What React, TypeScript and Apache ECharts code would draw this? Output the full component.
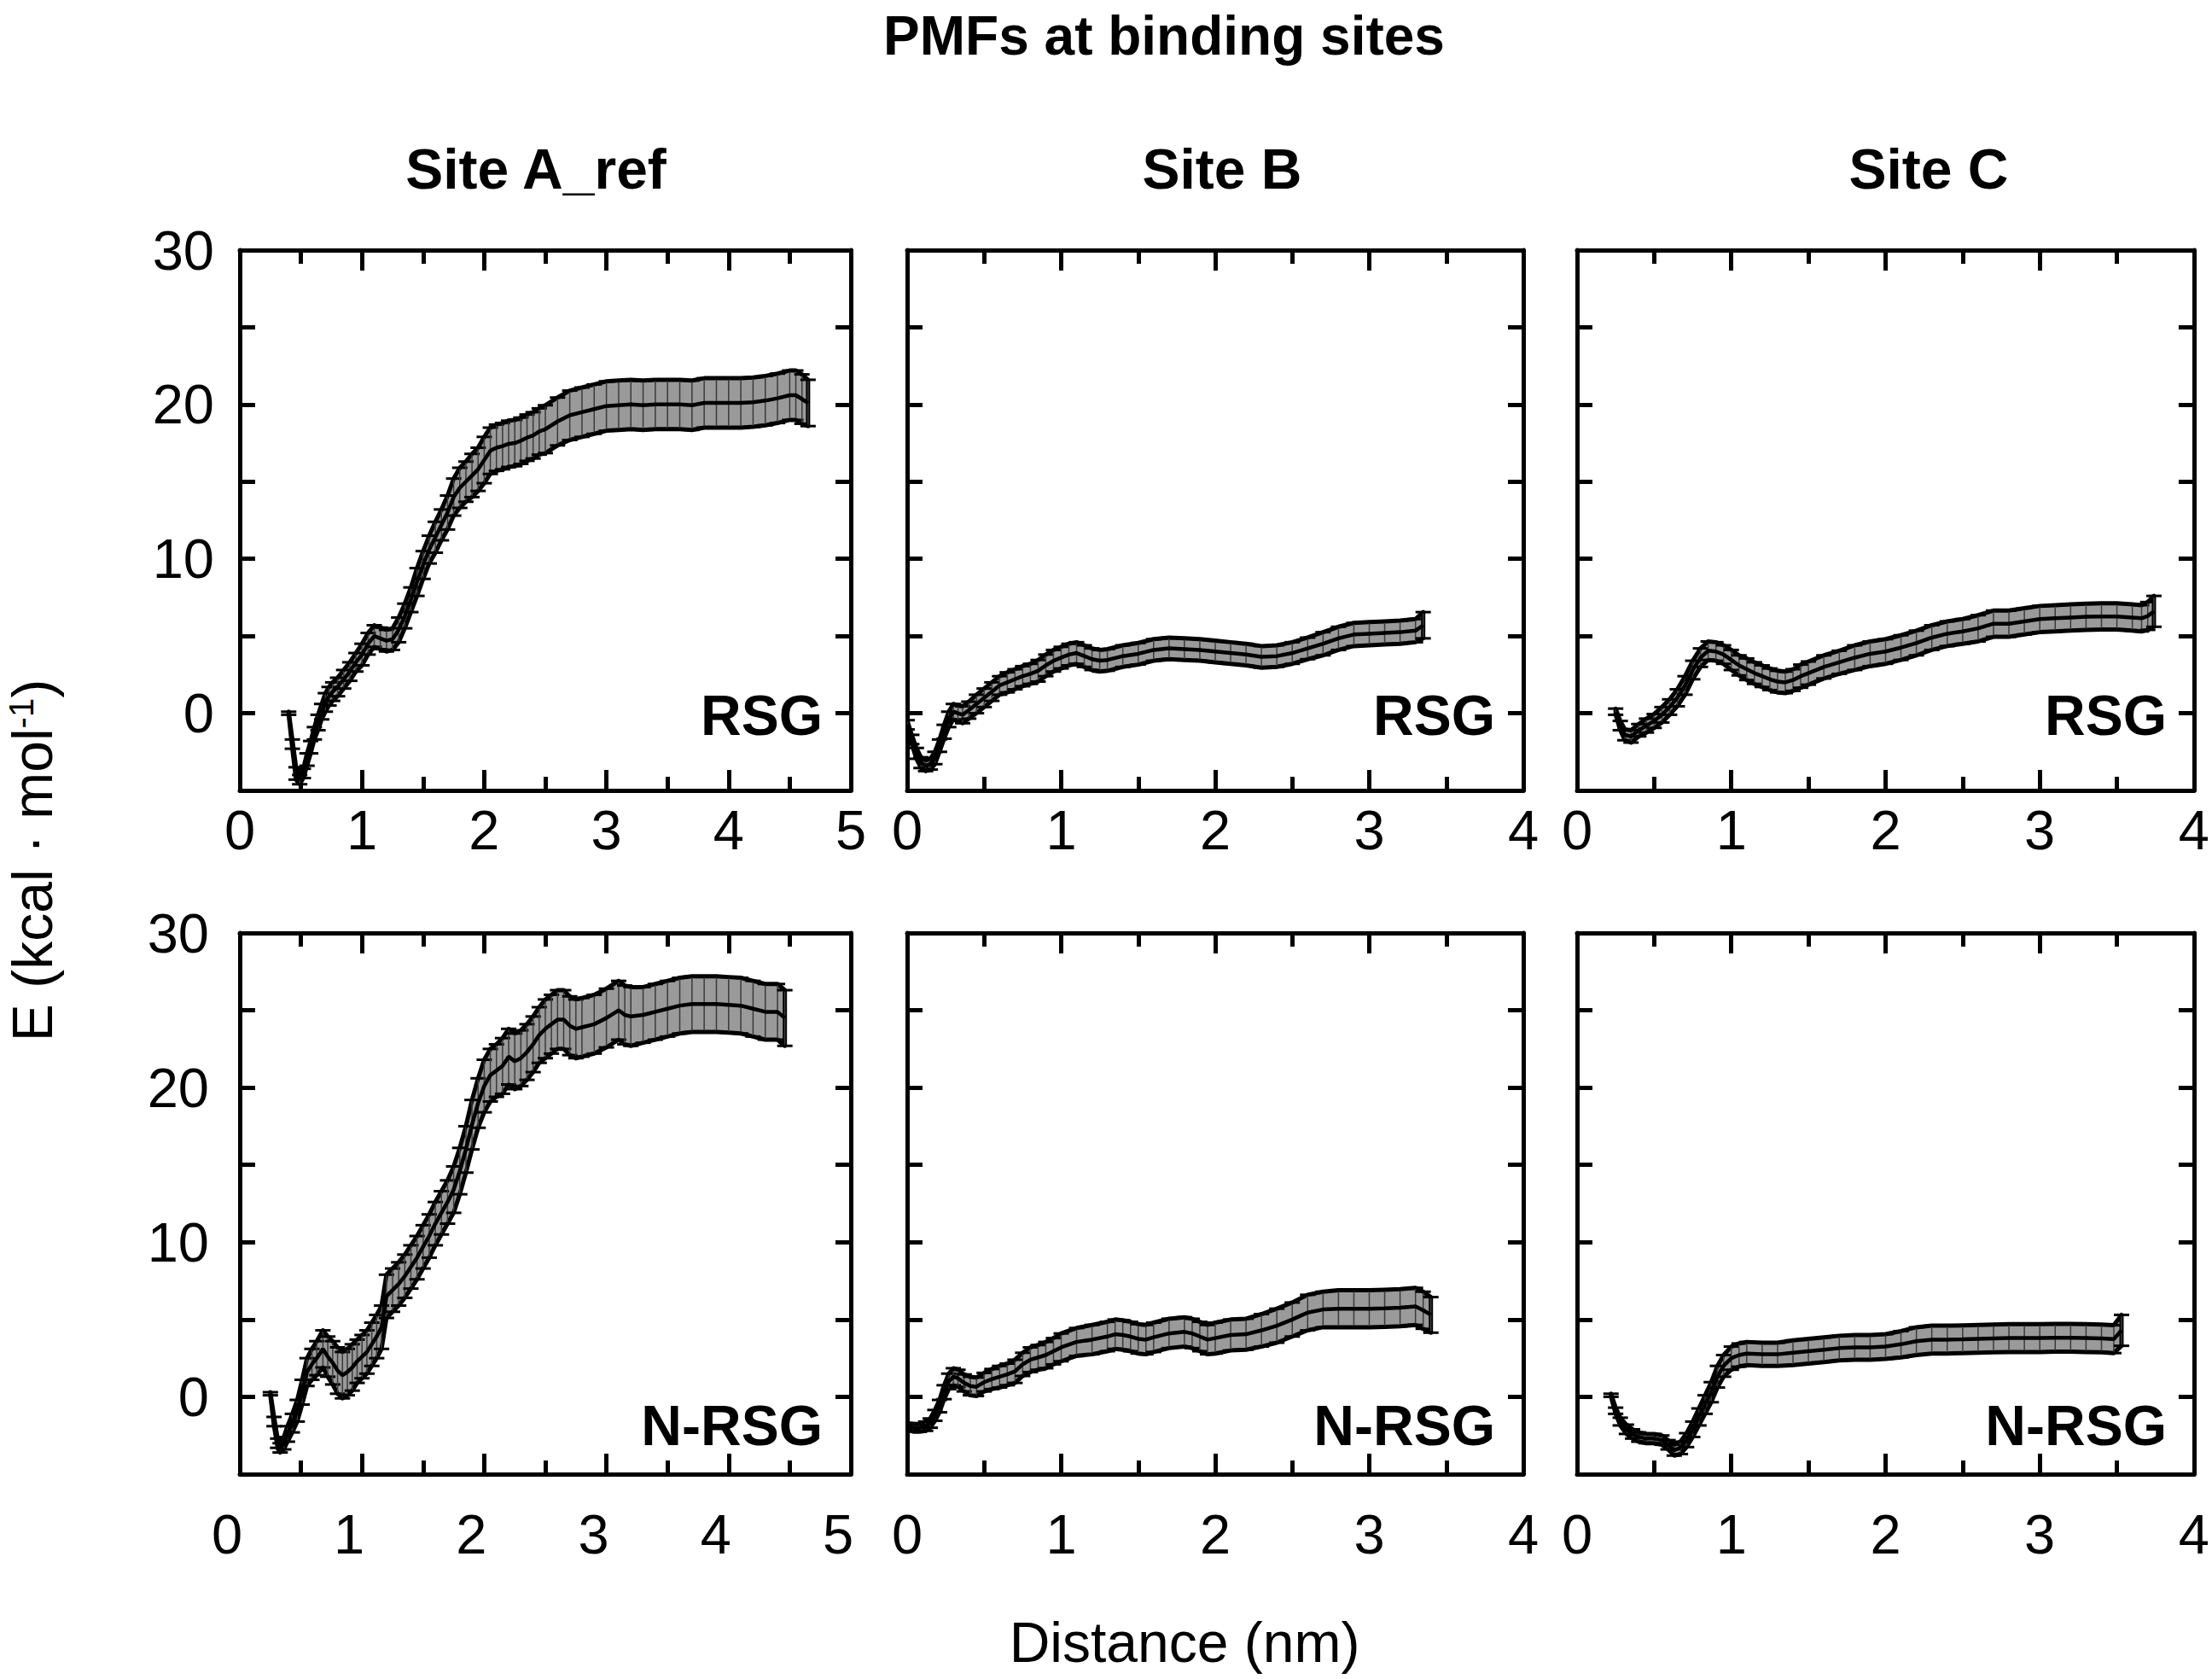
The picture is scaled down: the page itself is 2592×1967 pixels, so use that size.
import React, { useEffect, useRef } from "react";
import * as echarts from "echarts";

// ---------- DATA ----------
// Site A_ref, RSG
const aRsgX = [0.40,0.43,0.46,0.49,0.52,0.55,0.58,0.61,0.64,0.67,0.70,0.73,0.76,0.80,0.85,0.90,0.95,1.00,1.05,1.10,1.15,1.20,1.25,1.30,1.35,1.40,1.45,1.50,1.55,1.60,1.65,1.70,1.75,1.80,1.85,1.90,1.95,2.00,2.05,2.10,2.15,2.20,2.25,2.30,2.35,2.40,2.45,2.50,2.60,2.70,2.80,2.90,3.00,3.10,3.20,3.30,3.40,3.50,3.60,3.70,3.80,3.90,4.00,4.10,4.20,4.30,4.40,4.50,4.55,4.60,4.65];
const aRsgE = [0.0,-2.0,-3.9,-4.3,-3.9,-3.0,-2.2,-1.3,-0.6,0.1,0.7,1.1,1.4,1.7,2.2,2.7,3.3,3.8,4.5,5.0,4.85,4.7,4.8,5.4,6.3,7.35,8.5,9.6,10.6,11.4,12.2,13.0,14.0,14.6,15.0,15.4,15.8,16.4,17.0,17.2,17.3,17.45,17.5,17.65,17.85,18.0,18.25,18.4,18.9,19.3,19.5,19.7,19.9,19.95,20.0,19.95,20.0,20.0,20.0,19.95,20.1,20.1,20.1,20.1,20.15,20.25,20.4,20.6,20.6,20.35,20.1];
const aRsgErr = [0.1,0.3,0.4,0.3,0.3,0.4,0.4,0.4,0.5,0.5,0.6,0.6,0.6,0.6,0.6,0.6,0.6,0.7,0.7,0.7,0.7,0.7,0.7,0.8,0.8,0.8,0.9,0.9,0.9,1.0,1.0,1.1,1.2,1.3,1.3,1.4,1.4,1.5,1.5,1.5,1.5,1.5,1.5,1.5,1.5,1.5,1.5,1.55,1.55,1.6,1.6,1.6,1.6,1.6,1.6,1.6,1.6,1.6,1.6,1.6,1.6,1.6,1.6,1.6,1.6,1.6,1.6,1.6,1.6,1.6,1.5];

// Site B, RSG
const bRsgX = [0.00,0.03,0.06,0.09,0.12,0.15,0.18,0.21,0.24,0.27,0.30,0.33,0.36,0.40,0.45,0.50,0.55,0.60,0.65,0.70,0.75,0.80,0.85,0.90,0.95,1.00,1.05,1.10,1.15,1.20,1.25,1.30,1.40,1.50,1.60,1.70,1.80,1.90,2.00,2.10,2.20,2.30,2.40,2.50,2.60,2.70,2.80,2.90,3.00,3.10,3.20,3.30,3.35];
const bRsgE = [-0.75,-1.7,-2.6,-3.2,-3.4,-3.3,-2.9,-2.1,-1.2,-0.4,0.1,0.0,-0.1,0.2,0.6,1.0,1.4,1.8,2.0,2.2,2.4,2.55,2.75,3.1,3.4,3.6,3.8,3.9,3.7,3.5,3.4,3.45,3.7,3.85,4.1,4.2,4.15,4.1,4.0,3.9,3.8,3.65,3.7,3.9,4.2,4.5,4.85,5.1,5.15,5.2,5.25,5.35,5.7];
const bRsgErr = [0.3,0.3,0.35,0.35,0.35,0.35,0.4,0.4,0.45,0.5,0.5,0.5,0.55,0.55,0.6,0.6,0.6,0.6,0.65,0.65,0.65,0.65,0.7,0.7,0.7,0.7,0.7,0.7,0.7,0.7,0.7,0.7,0.7,0.7,0.7,0.7,0.7,0.7,0.7,0.7,0.7,0.7,0.7,0.7,0.7,0.75,0.75,0.75,0.75,0.75,0.75,0.75,0.85];

// Site C, RSG
const cRsgX = [0.25,0.28,0.31,0.35,0.40,0.45,0.50,0.55,0.60,0.65,0.70,0.75,0.80,0.85,0.90,0.95,1.00,1.05,1.10,1.15,1.20,1.25,1.30,1.35,1.40,1.45,1.50,1.60,1.70,1.80,1.90,2.00,2.10,2.20,2.30,2.40,2.50,2.60,2.70,2.80,2.90,3.00,3.10,3.20,3.30,3.40,3.50,3.60,3.66,3.70,3.74];
const cRsgE = [0.1,-0.8,-1.4,-1.5,-1.1,-0.8,-0.5,-0.1,0.4,1.0,1.8,2.8,3.6,4.05,4.0,3.8,3.45,3.1,2.85,2.6,2.4,2.2,2.05,2.0,2.15,2.4,2.6,3.0,3.3,3.6,3.85,4.0,4.25,4.55,4.9,5.15,5.3,5.5,5.8,5.8,5.95,6.1,6.15,6.2,6.25,6.27,6.27,6.2,6.15,6.3,6.6];
const cRsgErr = [0.2,0.3,0.35,0.4,0.4,0.45,0.45,0.5,0.5,0.55,0.6,0.6,0.6,0.6,0.6,0.6,0.65,0.65,0.7,0.7,0.7,0.7,0.7,0.7,0.7,0.75,0.75,0.75,0.75,0.8,0.8,0.8,0.8,0.8,0.8,0.8,0.8,0.85,0.85,0.85,0.85,0.85,0.85,0.85,0.85,0.85,0.85,0.85,0.85,0.9,1.0];

// Site A_ref, N-RSG
const aNrsgX = [0.25,0.28,0.31,0.33,0.36,0.39,0.43,0.47,0.51,0.55,0.59,0.63,0.68,0.72,0.76,0.80,0.84,0.88,0.92,0.96,1.00,1.04,1.08,1.12,1.16,1.20,1.25,1.30,1.35,1.40,1.45,1.50,1.55,1.60,1.65,1.70,1.75,1.80,1.85,1.90,1.95,2.00,2.05,2.10,2.15,2.20,2.25,2.30,2.35,2.40,2.45,2.50,2.55,2.60,2.65,2.70,2.75,2.80,2.90,3.00,3.10,3.15,3.20,3.30,3.40,3.50,3.60,3.70,3.80,3.90,4.00,4.10,4.20,4.30,4.40,4.46];
const aNrsgE = [0.2,-1.6,-3.0,-3.3,-3.0,-2.4,-1.7,-0.9,0.3,1.6,2.1,2.5,3.1,2.6,2.2,1.7,1.4,1.6,1.9,2.3,2.6,2.9,3.4,3.9,4.5,6.5,6.9,7.3,7.8,8.4,9.0,9.7,10.4,11.2,11.9,12.6,13.4,14.6,16.0,17.6,19.0,20.1,20.8,21.1,21.4,22.0,21.7,21.9,22.3,22.8,23.4,23.8,24.1,24.4,24.4,24.0,23.8,23.9,24.1,24.5,25.0,24.7,24.6,24.7,24.9,25.1,25.3,25.4,25.4,25.4,25.35,25.3,25.1,24.9,24.9,24.5];
const aNrsgErr = [0.1,0.3,0.3,0.3,0.4,0.5,0.6,0.7,0.8,0.9,1.0,1.1,1.2,1.3,1.4,1.5,1.5,1.5,1.5,1.4,1.4,1.4,1.4,1.4,1.4,1.4,1.4,1.4,1.4,1.4,1.4,1.4,1.4,1.4,1.4,1.4,1.5,1.5,1.5,1.6,1.6,1.7,1.7,1.7,1.8,1.8,1.8,1.8,1.8,1.8,1.8,1.9,1.9,1.9,1.9,1.9,1.9,1.9,1.9,1.9,1.9,1.9,1.9,1.8,1.8,1.8,1.8,1.8,1.8,1.8,1.8,1.8,1.8,1.8,1.8,1.8];

// Site B, N-RSG
const bNrsgX = [0.00,0.04,0.08,0.12,0.15,0.18,0.21,0.24,0.27,0.30,0.33,0.37,0.41,0.45,0.50,0.55,0.60,0.65,0.70,0.75,0.80,0.85,0.90,0.95,1.00,1.10,1.20,1.30,1.35,1.40,1.45,1.50,1.55,1.60,1.70,1.80,1.85,1.90,1.95,2.00,2.10,2.20,2.30,2.40,2.50,2.60,2.70,2.80,2.90,3.00,3.10,3.20,3.30,3.35,3.40];
const bNrsgE = [-1.9,-2.0,-2.0,-1.9,-1.7,-1.2,-0.6,0.3,1.0,1.3,1.2,0.9,0.7,0.65,0.95,1.15,1.3,1.45,1.65,2.1,2.4,2.55,2.7,2.95,3.2,3.55,3.7,3.9,4.05,4.0,3.9,3.75,3.7,3.85,4.1,4.2,4.1,3.9,3.7,3.8,4.0,4.05,4.3,4.6,5.0,5.45,5.65,5.7,5.7,5.7,5.72,5.76,5.85,5.6,5.3];
const bNrsgErr = [0.2,0.25,0.25,0.3,0.3,0.35,0.4,0.45,0.5,0.55,0.55,0.55,0.6,0.6,0.6,0.65,0.7,0.7,0.75,0.75,0.8,0.8,0.85,0.85,0.9,0.9,0.95,0.95,0.95,0.95,0.95,0.95,0.95,0.95,0.95,0.95,0.95,0.95,0.95,1.0,1.0,1.0,1.05,1.1,1.1,1.15,1.15,1.2,1.2,1.2,1.2,1.2,1.2,1.2,1.15];

// Site C, N-RSG
const cNrsgX = [0.22,0.25,0.28,0.32,0.36,0.40,0.45,0.50,0.55,0.59,0.63,0.67,0.71,0.75,0.79,0.83,0.87,0.91,0.95,1.00,1.05,1.10,1.20,1.30,1.40,1.50,1.60,1.70,1.80,1.90,2.00,2.10,2.20,2.30,2.40,2.50,2.60,2.70,2.80,2.90,3.00,3.10,3.20,3.30,3.40,3.48,3.53];
const cNrsgE = [0.1,-0.9,-1.6,-2.1,-2.4,-2.6,-2.7,-2.7,-2.8,-3.1,-3.45,-3.3,-2.8,-2.1,-1.3,-0.5,0.3,1.3,2.0,2.5,2.7,2.8,2.75,2.75,2.85,2.95,3.05,3.15,3.2,3.2,3.25,3.4,3.6,3.7,3.7,3.72,3.75,3.78,3.8,3.8,3.8,3.82,3.82,3.8,3.78,3.73,4.3];
const cNrsgErr = [0.1,0.2,0.25,0.3,0.3,0.3,0.3,0.3,0.3,0.3,0.35,0.4,0.45,0.5,0.55,0.6,0.65,0.7,0.7,0.75,0.75,0.75,0.75,0.75,0.8,0.8,0.8,0.8,0.8,0.8,0.8,0.85,0.9,0.9,0.9,0.9,0.9,0.9,0.9,0.9,0.9,0.9,0.9,0.9,0.9,0.9,1.0];

const siteTitles = ["Site A_ref", "Site B", "Site C"];
const ligandLabels = ["RSG", "N-RSG"];
const xMaxBySite = [5, 4, 4];
const yMin = -5;
const yMax = 30;
const mainTitle = "PMFs at binding sites";
const xName = "Distance (nm)";

// ---------- LAYOUT ----------
const FONT = "'Liberation Sans', Arial, Helvetica, sans-serif";
const COLS = [
  { left: 281, width: 716, head: 628 },
  { left: 1063, width: 722, head: 1432 },
  { left: 1848, width: 724, head: 2260 },
];
const ROWS = [
  { top: 293, height: 633, labelMargin: 14, labelY: 838 },
  { top: 1093, height: 634, labelMargin: 38, labelY: 1670 },
];

const panels = [
  { row: 0, col: 0, x: aRsgX, e: aRsgE, err: aRsgErr },
  { row: 0, col: 1, x: bRsgX, e: bRsgE, err: bRsgErr },
  { row: 0, col: 2, x: cRsgX, e: cRsgE, err: cRsgErr },
  { row: 1, col: 0, x: aNrsgX, e: aNrsgE, err: aNrsgErr },
  { row: 1, col: 1, x: bNrsgX, e: bNrsgE, err: bNrsgErr },
  { row: 1, col: 2, x: cNrsgX, e: cNrsgE, err: cNrsgErr },
];

function buildOption() {
  const grid: any[] = [];
  const xAxis: any[] = [];
  const yAxis: any[] = [];
  const series: any[] = [];
  const graphic: any[] = [];

  const lineStyle = { color: "#000", width: 5 };
  const tickStyle = { color: "#000", width: 5 };

  panels.forEach((p, i) => {
    const c = COLS[p.col];
    const r = ROWS[p.row];
    grid.push({ left: c.left, top: r.top, width: c.width, height: r.height, containLabel: false });
    const xmax = xMaxBySite[p.col];
    const baseX = {
      type: "value",
      gridIndex: i,
      min: 0,
      max: xmax,
      interval: 1,
      splitLine: { show: false },
      minorSplitLine: { show: false },
      axisLine: { show: true, onZero: false, lineStyle },
      axisTick: { show: true, inside: true, length: 24, lineStyle: tickStyle },
      minorTick: { show: true, splitNumber: 2, length: 16, lineStyle: tickStyle },
    };
    xAxis.push({
      ...baseX,
      position: "bottom",
      axisLabel: {
        show: true,
        fontSize: 65,
        fontFamily: FONT,
        color: "#000",
        margin: r.labelMargin,
        padding: p.row === 1 && p.col === 0 ? [0, 30, 0, 0] : 0,
      },
    });
    xAxis.push({ ...baseX, position: "top", axisLabel: { show: false } });
    const baseY = {
      type: "value",
      gridIndex: i,
      min: yMin,
      max: yMax,
      interval: 5,
      splitLine: { show: false },
      axisLine: { show: true, onZero: false, lineStyle },
      axisTick: { show: true, inside: true, length: 18, lineStyle: tickStyle },
    };
    yAxis.push({
      ...baseY,
      position: "left",
      axisLabel: {
        show: p.col === 0,
        fontSize: 65,
        fontFamily: FONT,
        color: "#000",
        margin: p.row === 1 ? 36 : 30,
        formatter: (v: number) => (v % 10 === 0 ? String(v) : ""),
      },
    });
    yAxis.push({ ...baseY, position: "right", axisLabel: { show: false } });

    const xs = p.x;
    const es = p.e;
    const errs = p.err;

    // shaded band between mean - err and mean + err
    series.push({
      type: "custom",
      xAxisIndex: 2 * i,
      yAxisIndex: 2 * i,
      clip: true,
      z: 1,
      silent: true,
      data: [[xs[0], es[0]]],
      renderItem: (_params: any, api: any) => {
        const pts: number[][] = [];
        for (let k = 0; k < xs.length; k++) pts.push(api.coord([xs[k], es[k] + errs[k]]));
        for (let k = xs.length - 1; k >= 0; k--) pts.push(api.coord([xs[k], es[k] - errs[k]]));
        return {
          type: "polygon",
          shape: { points: pts },
          style: { fill: "#9a9a9a", stroke: "#000", lineWidth: 5, lineJoin: "round" },
        };
      },
    });

    // error bars
    series.push({
      type: "custom",
      xAxisIndex: 2 * i,
      yAxisIndex: 2 * i,
      clip: true,
      z: 2,
      silent: true,
      encode: { x: 0, y: [1, 2] },
      data: xs.map((x, k) => [x, es[k] - errs[k], es[k] + errs[k]]),
      renderItem: (_params: any, api: any) => {
        const x = api.value(0);
        const a = api.coord([x, api.value(1)]);
        const b = api.coord([x, api.value(2)]);
        const w = 9;
        return {
          type: "group",
          children: [
            { type: "line", shape: { x1: a[0], y1: a[1], x2: b[0], y2: b[1] }, style: { stroke: "#3a3a3a", lineWidth: 1.5 } },
            { type: "line", shape: { x1: a[0] - w, y1: a[1], x2: a[0] + w, y2: a[1] }, style: { stroke: "#000", lineWidth: 3 } },
            { type: "line", shape: { x1: b[0] - w, y1: b[1], x2: b[0] + w, y2: b[1] }, style: { stroke: "#000", lineWidth: 3 } },
          ],
        };
      },
    });

    // mean PMF curve
    series.push({
      type: "line",
      xAxisIndex: 2 * i,
      yAxisIndex: 2 * i,
      z: 3,
      symbol: "none",
      silent: true,
      lineStyle: { color: "#000", width: 4.5 },
      data: xs.map((x, k) => [x, es[k]]),
    });

    // panel ligand label
    graphic.push({
      type: "text",
      x: c.left + c.width - 33,
      y: r.labelY,
      style: {
        text: ligandLabels[p.row],
        font: `bold 66px ${FONT}`,
        fill: "#000",
        textAlign: "right",
        textVerticalAlign: "middle",
      },
    });
  });

  // column headings
  COLS.forEach((c, k) => {
    graphic.push({
      type: "text",
      x: c.head,
      y: 198,
      style: {
        text: siteTitles[k],
        font: `bold 66px ${FONT}`,
        fill: "#000",
        textAlign: "center",
        textVerticalAlign: "middle",
      },
    });
  });

  // main title
  graphic.push({
    type: "text",
    x: 1364,
    y: 42,
    style: {
      text: mainTitle,
      font: `bold 64px ${FONT}`,
      fill: "#000",
      textAlign: "center",
      textVerticalAlign: "middle",
    },
  });

  // x axis name
  graphic.push({
    type: "text",
    x: 1388,
    y: 1924,
    style: {
      text: xName,
      font: `66px ${FONT}`,
      fill: "#000",
      textAlign: "center",
      textVerticalAlign: "middle",
    },
  });

  // y axis name (rotated, with superscript)
  graphic.push({
    type: "text",
    x: 38,
    y: 1008,
    rotation: Math.PI / 2,
    style: {
      text: "E (kcal · mol{sup|-1})",
      fontSize: 66,
      fontFamily: FONT,
      fill: "#000",
      textAlign: "center",
      textVerticalAlign: "middle",
      rich: {
        sup: { fontSize: 40, fontFamily: FONT, fill: "#000", verticalAlign: "top" },
      },
    },
  });

  return {
    animation: false,
    backgroundColor: "#fff",
    grid,
    xAxis,
    yAxis,
    series,
    graphic,
  };
}

export default function App() {
  const ref = useRef<HTMLDivElement>(null);
  useEffect(() => {
    document.body.style.margin = "0";
    const chart = echarts.init(ref.current as HTMLDivElement, null, { renderer: "svg" });
    chart.setOption(buildOption() as any);
    return () => chart.dispose();
  }, []);
  return <div ref={ref} style={{ width: 2592, height: 1967, background: "#fff" }} />;
}
